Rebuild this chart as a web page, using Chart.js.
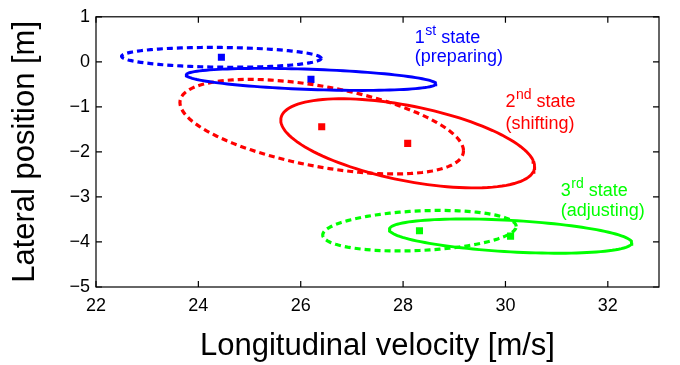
<!DOCTYPE html>
<html>
<head>
<meta charset="utf-8">
<script src="https://cdn.jsdelivr.net/npm/chart.js@4.4.0/dist/chart.umd.min.js"></script>
<style>
  html, body { margin: 0; padding: 0; background: #fff; }
  #wrap { width: 680px; height: 365px; }
</style>
</head>
<body>
<div id="wrap"><canvas id="myChart"></canvas></div>
<script>
// one entry per ellipse: 1st state dashed/solid, 2nd dashed/solid, 3rd dashed/solid
const ellipseNames = ['1st-a', '1st-b', '2nd-a', '2nd-b', '3rd-a', '3rd-b'];
const centerX = [24.45, 26.20, 26.41, 28.09, 28.32, 30.10];
const centerY = [0.10, -0.39, -1.44, -1.81, -3.75, -3.87];
const halfWidth = [1.95, 2.44, 2.77, 2.48, 1.89, 2.37];   // half extent along x
const halfHeight = [0.22, 0.245, 1.05, 0.99, 0.45, 0.38]; // half extent along y
const correlation = [-0.10, -0.40, -0.51, -0.52, 0.21, -0.39];

const xTicks = [22, 24, 26, 28, 30, 32];
const yTicks = [1, 0, -1, -2, -3, -4, -5];

const stateNums = ['1', '2', '3'];
const stateSups = ['st', 'nd', 'rd'];
const stateDesc = ['(preparing)', '(shifting)', '(adjusting)'];

const colors = ['#0000ff', '#0000ff', '#ff0000', '#ff0000', '#00ff00', '#00ff00'];
const dashed = [true, false, true, false, true, false];
const FONT = '"Liberation Sans", Arial, Helvetica, sans-serif';

// outline of an ellipse given its x/y half extents and correlation
function outline(i) {
  const pts = [];
  const r = correlation[i], s = Math.sqrt(1 - r * r);
  for (let k = 0; k <= 120; k++) {
    const t = (k / 120) * 2 * Math.PI;
    pts.push({
      x: centerX[i] + halfWidth[i] * Math.cos(t),
      y: centerY[i] + halfHeight[i] * (r * Math.cos(t) + s * Math.sin(t))
    });
  }
  return pts;
}

const datasets = ellipseNames.map((name, i) => ({
  label: name,
  data: outline(i),
  showLine: true,
  borderColor: colors[i],
  borderWidth: dashed[i] ? 3.2 : 2.9,
  borderDash: dashed[i] ? [6, 4] : [],
  pointRadius: 0,
  tension: 0
}));

datasets.push({
  label: 'means',
  data: centerX.map((x, i) => ({ x: x, y: centerY[i] })),
  pointStyle: 'rect',
  pointRadius: 5,
  borderWidth: 0,
  backgroundColor: colors,
  showLine: false
});

// axes box with inward ticks on all four sides (matlab style)
const boxPlugin = {
  id: 'box',
  afterDatasetsDraw(chart) {
    const { ctx, chartArea: a, scales } = chart;
    ctx.save();
    ctx.strokeStyle = '#000';
    ctx.lineWidth = 1.2;
    ctx.strokeRect(a.left, a.top, a.right - a.left, a.bottom - a.top);
    ctx.beginPath();
    xTicks.forEach(v => {
      const px = scales.x.getPixelForValue(v);
      ctx.moveTo(px, a.bottom); ctx.lineTo(px, a.bottom - 6);
      ctx.moveTo(px, a.top); ctx.lineTo(px, a.top + 6);
    });
    yTicks.forEach(v => {
      const py = scales.y.getPixelForValue(v);
      ctx.moveTo(a.left, py); ctx.lineTo(a.left + 6, py);
      ctx.moveTo(a.right, py); ctx.lineTo(a.right - 6, py);
    });
    ctx.stroke();
    ctx.restore();
  }
};

// state annotations, anchored in data units
const notePlugin = {
  id: 'notes',
  afterDatasetsDraw(chart, args, opts) {
    const { ctx, scales } = chart;
    ctx.save();
    ctx.textBaseline = 'alphabetic';
    ctx.textAlign = 'left';
    opts.anchors.forEach((an, i) => {
      const c = opts.colors[i];
      const x = scales.x.getPixelForValue(an.x);
      const y1 = scales.y.getPixelForValue(an.y1);
      const y2 = scales.y.getPixelForValue(an.y2);
      ctx.fillStyle = c;
      ctx.font = '18px ' + FONT;
      ctx.fillText(stateNums[i], x, y1);
      let w = ctx.measureText(stateNums[i]).width;
      ctx.font = '14px ' + FONT;
      ctx.fillText(stateSups[i], x + w + 0.5, y1 - 8);
      w += ctx.measureText(stateSups[i]).width + 0.5;
      ctx.font = '18px ' + FONT;
      ctx.fillText(' state', x + w, y1);
      ctx.fillText(stateDesc[i], x, y2);
    });
    ctx.restore();
  }
};

const minus = v => String(v).replace('-', '\u2212');

new Chart(document.getElementById('myChart'), {
  type: 'scatter',
  data: { datasets: datasets },
  plugins: [boxPlugin, notePlugin],
  options: {
    responsive: true,
    maintainAspectRatio: false,
    animation: false,
    layout: { padding: { left: 0, right: 21, top: 6, bottom: 0 } },
    plugins: {
      legend: { display: false },
      tooltip: { enabled: false },
      notes: {
        colors: ['#0000ff', '#ff0000', '#00ff00'],
        anchors: [
          { x: 28.23, y1: 0.42, y2: 0.0 },
          { x: 30.0, y1: -1.01, y2: -1.49 },
          { x: 31.08, y1: -2.97, y2: -3.42 }
        ]
      }
    },
    scales: {
      x: {
        type: 'linear',
        min: 22,
        max: 33,
        afterBuildTicks: s => { s.ticks = xTicks.map(v => ({ value: v })); },
        afterFit: s => { s.height = 78; },
        grid: { display: false, drawTicks: false },
        border: { display: false },
        ticks: {
          padding: 8,
          color: '#000',
          font: { family: FONT, size: 18 },
          callback: v => minus(v)
        },
        title: {
          display: true,
          text: 'Longitudinal velocity [m/s]',
          color: '#000',
          font: { family: FONT, size: 31 },
          padding: { top: 0, bottom: 0 }
        }
      },
      y: {
        type: 'linear',
        min: -5,
        max: 1,
        afterBuildTicks: s => { s.ticks = yTicks.map(v => ({ value: v })); },
        afterFit: s => { s.width = 96; },
        grid: { display: false, drawTicks: false },
        border: { display: false },
        ticks: {
          padding: 6,
          color: '#000',
          font: { family: FONT, size: 18 },
          callback: v => minus(v)
        },
        title: {
          display: true,
          text: 'Lateral position [m]',
          color: '#000',
          font: { family: FONT, size: 31 },
          padding: { top: 7, bottom: 0 }
        }
      }
    }
  }
});
</script>
</body>
</html>
